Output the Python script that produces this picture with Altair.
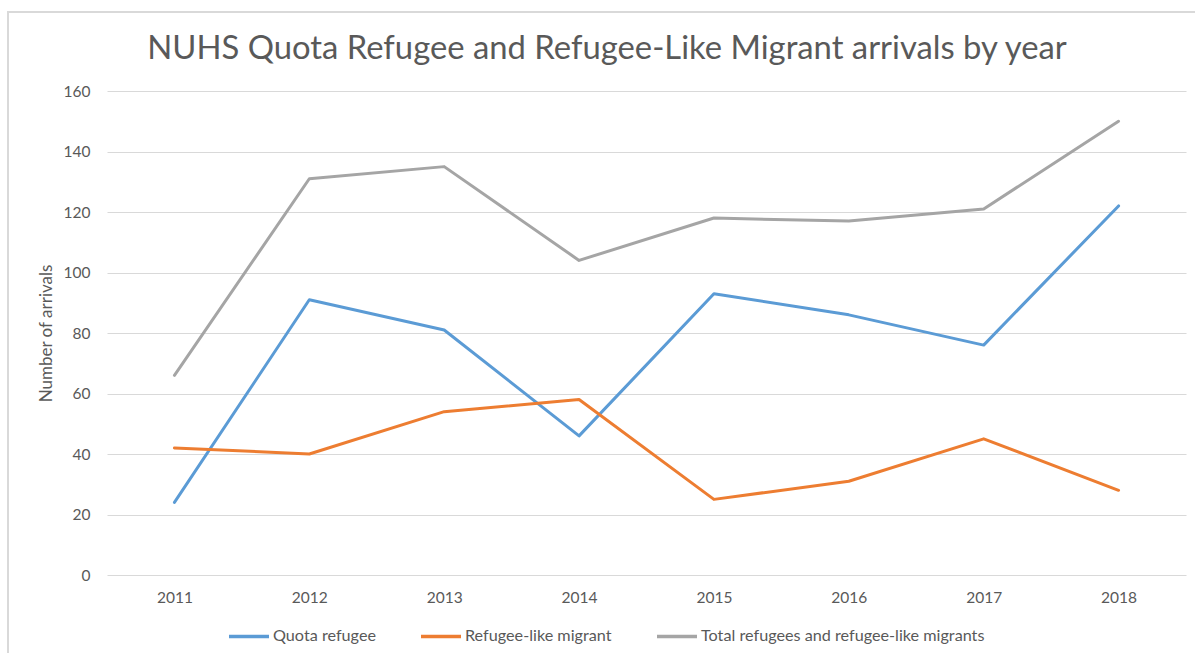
import altair as alt
import pandas as pd

years = ["2011", "2012", "2013", "2014", "2015", "2016", "2017", "2018"]
quota = [24, 91, 81, 46, 93, 86, 76, 122]
refugee_like = [42, 40, 54, 58, 25, 31, 45, 28]
total = [66, 131, 135, 104, 118, 117, 121, 150]

series_names = ["Quota refugee", "Refugee-like migrant",
                "Total refugees and refugee-like migrants"]
series_colors = ["#5B9BD5", "#ED7D31", "#A5A5A5"]
title_text = "NUHS Quota Refugee and Refugee-Like Migrant arrivals by year"

rows = []
for name, vals in zip(series_names, [quota, refugee_like, total]):
    for y, v in zip(years, vals):
        rows.append({"year": y, "value": v, "series": name})
df = pd.DataFrame(rows)

FONT = "Lato"
TXT = "#595959"

one = pd.DataFrame({"a": [0]})

frame = alt.Chart(one).mark_rect(
    fill=None, stroke="#D9D9D9", strokeWidth=2
).encode(
    x=alt.value(-99), x2=alt.value(1200), y=alt.value(-79), y2=alt.value(620)
)

title = alt.Chart(one).mark_text(
    font=FONT, fontSize=32.8, color=TXT, align="center", baseline="middle"
).encode(
    x=alt.value(500), y=alt.value(-42), text=alt.value(title_text)
)

lines = alt.Chart(df).mark_line(strokeWidth=3, strokeCap="round", strokeJoin="round").encode(
    x=alt.X("year:O", sort=years,
            axis=alt.Axis(title=None, labelAngle=0, ticks=False, domain=False,
                          labelPadding=15, labelFontSize=15.5, labelColor=TXT,
                          labelFont=FONT, grid=False)),
    y=alt.Y("value:Q", scale=alt.Scale(domain=[0, 160], nice=False),
            axis=alt.Axis(title="Number of arrivals", values=list(range(0, 161, 20)),
                          ticks=False, domain=False, labelPadding=17,
                          labelFontSize=15.5, labelColor=TXT, labelFont=FONT,
                          gridColor="#D9D9D9", gridWidth=1,
                          titleFont=FONT, titleFontSize=17, titleFontWeight="normal",
                          titleColor=TXT, titleX=-61, titleY=242,
                          titleAngle=-90, titleAlign="center", titleBaseline="middle")),
    color=alt.Color("series:N", sort=series_names,
                    scale=alt.Scale(domain=series_names, range=series_colors),
                    legend=alt.Legend(title=None, orient="none", direction="horizontal",
                                      legendX=120, legendY=523,
                                      symbolType="stroke", symbolSize=1600,
                                      symbolStrokeWidth=3.5, labelOffset=2,
                                      columnPadding=38, labelFont=FONT,
                                      labelFontSize=16.2, labelColor=TXT,
                                      labelLimit=600)),
    order=alt.Order("year:O"),
)

chart = alt.layer(frame, title, lines).properties(
    width=1079, height=484,
    padding={"left": 107, "top": 91, "right": 9, "bottom": 78},
    autosize=alt.AutoSizeParams(type="none"),
).configure(background="white").configure_view(stroke=None)

chart.save("out.html", embed_options={"renderer": "svg", "actions": False})
